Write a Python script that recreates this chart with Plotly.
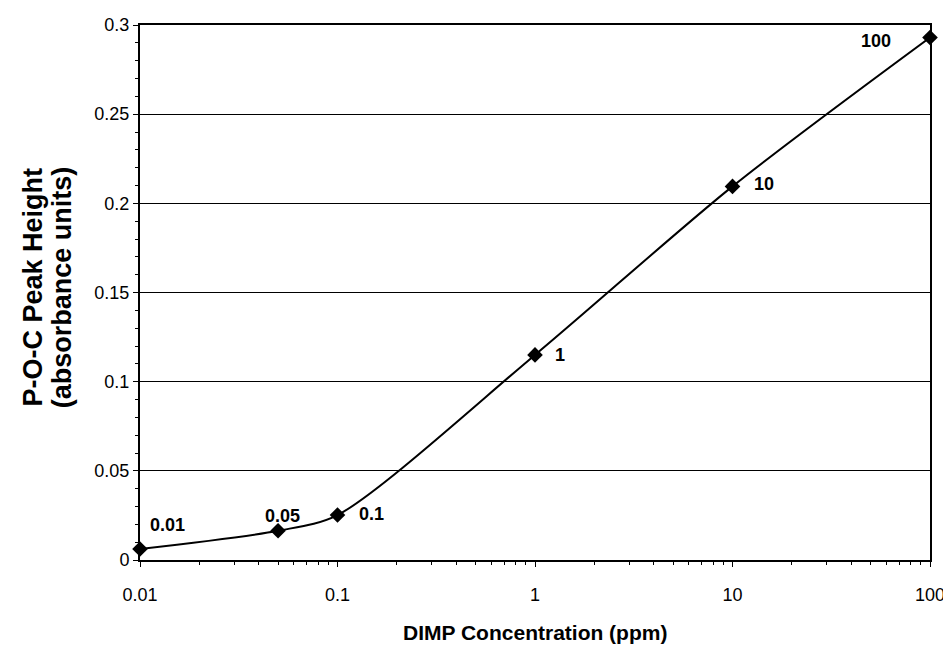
import math
import plotly.graph_objects as go

conc = [0.01, 0.05, 0.1, 1, 10, 100]
peak = [0.0062, 0.0164, 0.0252, 0.115, 0.2095, 0.293]
labels = ["0.01", "0.05", "0.1", "1", "10", "100"]
x_ticks = [0.01, 0.1, 1, 10, 100]
x_ticktext = ["0.01", "0.1", "1", "10", "100"]
x_title = "DIMP Concentration (ppm)"
y_title_lines = ["P-O-C Peak Height", "(absorbance units)"]

# label placement: (xanchor, yanchor, xshift, yshift)
label_place = [
    ("left", "middle", 8, 24),
    ("center", "middle", 4, 15),
    ("left", "middle", 19, 1),
    ("left", "middle", 18, 0),
    ("left", "middle", 19, 2),
    ("right", "middle", -37, -4),
]

font = "Liberation Sans, Arial, sans-serif"

fig = go.Figure()
fig.add_trace(go.Scatter(
    x=conc, y=peak,
    mode="lines+markers",
    line=dict(color="black", width=2, shape="spline", smoothing=0.8),
    marker=dict(symbol="diamond", size=12, color="black"),
    cliponaxis=False,
    showlegend=False,
))

for c, p, t, (xa, ya, xs, ys) in zip(conc, peak, labels, label_place):
    fig.add_annotation(
        x=math.log10(c), y=p, text="<b>" + t + "</b>", showarrow=False,
        xanchor=xa, yanchor=ya, xshift=xs, yshift=ys,
        font=dict(family=font, size=18, color="black"),
    )

fig.add_annotation(
    xref="paper", yref="paper", x=0.5, y=-0.1364, xanchor="center", yanchor="middle",
    text="<b>" + x_title + "</b>", showarrow=False,
    font=dict(family=font, size=21, color="black"),
)
for xp, line in zip([-0.135, -0.0985], y_title_lines):
    fig.add_annotation(
        xref="paper", yref="paper", x=xp, y=0.51, xanchor="center", yanchor="middle",
        text="<b>" + line + "</b>", showarrow=False, textangle=-90,
        font=dict(family=font, size=27, color="black"),
    )

minor_x = [m * 10 ** e for e in range(-2, 2) for m in range(2, 10)]

fig.update_layout(
    width=943, height=636,
    margin=dict(l=132, r=21, t=17, b=84),
    plot_bgcolor="white", paper_bgcolor="white",
    font=dict(family=font, color="black"),
)
fig.update_xaxes(
    type="log", range=[-2, 2],
    tickvals=x_ticks, ticktext=x_ticktext,
    ticks="outside", ticklen=5, tickcolor="black", tickwidth=1,
    ticklabelstandoff=12,
    minor=dict(tickvals=minor_x, ticks="outside", ticklen=3, tickcolor="black", showgrid=False),
    showline=True, linecolor="black", linewidth=2, mirror=True,
    showgrid=False, zeroline=False, automargin=False,
    tickfont=dict(family=font, size=18, color="black"),
)
fig.update_yaxes(
    range=[0, 0.3], dtick=0.05, tick0=0,
    tickformat="~g",
    ticks="outside", ticklen=5, tickcolor="black", tickwidth=1,
    minor=dict(dtick=0.01, ticks="outside", ticklen=3, tickcolor="black", showgrid=False),
    showline=True, linecolor="black", linewidth=2, mirror=True,
    showgrid=True, gridcolor="black", gridwidth=1, zeroline=False, automargin=False,
    tickfont=dict(family=font, size=18, color="black"),
)

fig.write_html("out.html")
